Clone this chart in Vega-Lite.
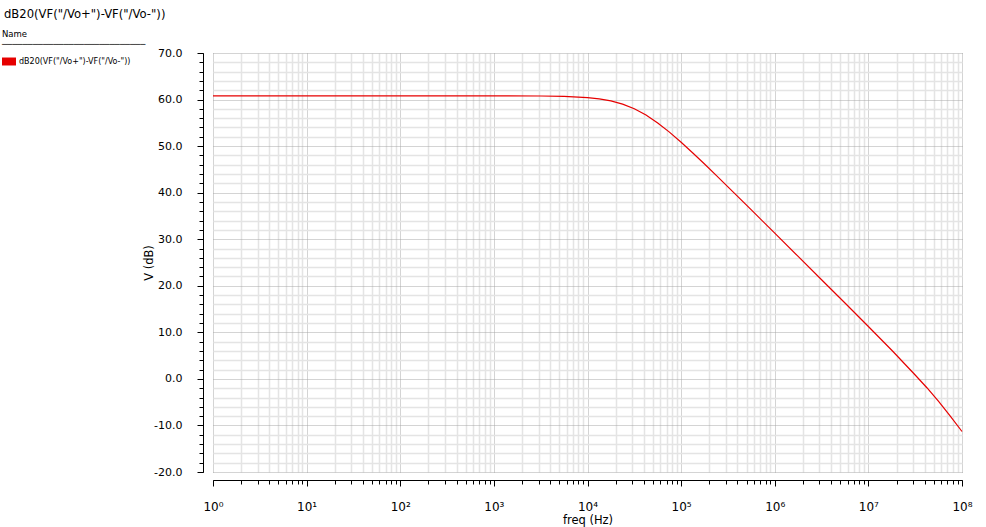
{
  "$schema": "https://vega.github.io/schema/vega-lite/v6.json",
  "width": 749,
  "height": 419,
  "autosize": {"type": "none"},
  "padding": {"left": 213, "top": 53, "right": 24, "bottom": 55},
  "background": "white",
  "config": {"view": {"stroke": null}, "font": "DejaVu Sans"},
  "title": {
    "text": "dB20(VF(\"/Vo+\")-VF(\"/Vo-\"))",
    "anchor": "start",
    "frame": "group",
    "dx": -209,
    "offset": 0.5,
    "baseline": "alphabetic",
    "font": "DejaVu Sans",
    "fontSize": 11.6,
    "fontWeight": "normal",
    "color": "black"
  },
  "data": {
    "values": [
      {"freq": 1, "dB": 60.8, "series": "dB20(VF(\"/Vo+\")-VF(\"/Vo-\"))"},
      {"freq": 10, "dB": 60.8, "series": "dB20(VF(\"/Vo+\")-VF(\"/Vo-\"))"},
      {"freq": 100, "dB": 60.8, "series": "dB20(VF(\"/Vo+\")-VF(\"/Vo-\"))"},
      {"freq": 1000, "dB": 60.8, "series": "dB20(VF(\"/Vo+\")-VF(\"/Vo-\"))"},
      {"freq": 3162, "dB": 60.76, "series": "dB20(VF(\"/Vo+\")-VF(\"/Vo-\"))"},
      {"freq": 5623, "dB": 60.68, "series": "dB20(VF(\"/Vo+\")-VF(\"/Vo-\"))"},
      {"freq": 10000, "dB": 60.43, "series": "dB20(VF(\"/Vo+\")-VF(\"/Vo-\"))"},
      {"freq": 13335, "dB": 60.16, "series": "dB20(VF(\"/Vo+\")-VF(\"/Vo-\"))"},
      {"freq": 17783, "dB": 59.72, "series": "dB20(VF(\"/Vo+\")-VF(\"/Vo-\"))"},
      {"freq": 23714, "dB": 59.03, "series": "dB20(VF(\"/Vo+\")-VF(\"/Vo-\"))"},
      {"freq": 31623, "dB": 58.03, "series": "dB20(VF(\"/Vo+\")-VF(\"/Vo-\"))"},
      {"freq": 42170, "dB": 56.68, "series": "dB20(VF(\"/Vo+\")-VF(\"/Vo-\"))"},
      {"freq": 56234, "dB": 54.98, "series": "dB20(VF(\"/Vo+\")-VF(\"/Vo-\"))"},
      {"freq": 74989, "dB": 53.01, "series": "dB20(VF(\"/Vo+\")-VF(\"/Vo-\"))"},
      {"freq": 100000, "dB": 50.84, "series": "dB20(VF(\"/Vo+\")-VF(\"/Vo-\"))"},
      {"freq": 133352, "dB": 48.53, "series": "dB20(VF(\"/Vo+\")-VF(\"/Vo-\"))"},
      {"freq": 177828, "dB": 46.15, "series": "dB20(VF(\"/Vo+\")-VF(\"/Vo-\"))"},
      {"freq": 237137, "dB": 43.71, "series": "dB20(VF(\"/Vo+\")-VF(\"/Vo-\"))"},
      {"freq": 316228, "dB": 41.25, "series": "dB20(VF(\"/Vo+\")-VF(\"/Vo-\"))"},
      {"freq": 562341, "dB": 36.29, "series": "dB20(VF(\"/Vo+\")-VF(\"/Vo-\"))"},
      {"freq": 1000000, "dB": 31.3, "series": "dB20(VF(\"/Vo+\")-VF(\"/Vo-\"))"},
      {"freq": 1778279, "dB": 26.3, "series": "dB20(VF(\"/Vo+\")-VF(\"/Vo-\"))"},
      {"freq": 3162278, "dB": 21.29, "series": "dB20(VF(\"/Vo+\")-VF(\"/Vo-\"))"},
      {"freq": 5623413, "dB": 16.29, "series": "dB20(VF(\"/Vo+\")-VF(\"/Vo-\"))"},
      {"freq": 10000000, "dB": 11.25, "series": "dB20(VF(\"/Vo+\")-VF(\"/Vo-\"))"},
      {"freq": 17782794, "dB": 6.15, "series": "dB20(VF(\"/Vo+\")-VF(\"/Vo-\"))"},
      {"freq": 31622777, "dB": 0.84, "series": "dB20(VF(\"/Vo+\")-VF(\"/Vo-\"))"},
      {"freq": 42169650, "dB": -1.9, "series": "dB20(VF(\"/Vo+\")-VF(\"/Vo-\"))"},
      {"freq": 56234133, "dB": -4.85, "series": "dB20(VF(\"/Vo+\")-VF(\"/Vo-\"))"},
      {"freq": 74989421, "dB": -8.0, "series": "dB20(VF(\"/Vo+\")-VF(\"/Vo-\"))"},
      {"freq": 100000000, "dB": -11.3, "series": "dB20(VF(\"/Vo+\")-VF(\"/Vo-\"))"}
    ]
  },
  "layer": [
    {
      "mark": {"type": "line", "strokeOpacity": 0},
      "encoding": {
        "x": {
          "field": "freq", "type": "quantitative",
          "scale": {"type": "log", "domain": [1, 100000000], "nice": false},
          "axis": {
            "orient": "bottom", "offset": 8,
            "values": [2,3,4,5,6,7,8,9,20,30,40,50,60,70,80,90,200,300,400,500,600,700,800,900,2000,3000,4000,5000,6000,7000,8000,9000,20000,30000,40000,50000,60000,70000,80000,90000,200000,300000,400000,500000,600000,700000,800000,900000,2000000,3000000,4000000,5000000,6000000,7000000,8000000,9000000,20000000,30000000,40000000,50000000,60000000,70000000,80000000,90000000],
            "grid": true, "gridColor": "#e4e4e4", "gridWidth": 1.5,
            "ticks": true, "tickSize": 4, "tickColor": "black", "tickWidth": 1,
            "domain": true, "domainColor": "black", "domainWidth": 1,
            "labels": false, "title": null
          }
        },
        "y": {
          "field": "dB", "type": "quantitative",
          "scale": {"domain": [-20, 70], "nice": false, "zero": false},
          "axis": {
            "orient": "left", "offset": 10,
            "values": [-18,-16,-14,-12,-8,-6,-4,-2,2,4,6,8,12,14,16,18,22,24,26,28,32,34,36,38,42,44,46,48,52,54,56,58,62,64,66,68],
            "grid": true, "gridColor": "#e4e4e4", "gridWidth": 1.5,
            "ticks": true, "tickSize": 4, "tickColor": "black", "tickWidth": 1,
            "domain": true, "domainColor": "black", "domainWidth": 1,
            "labels": false, "title": null
          }
        }
      }
    },
    {
      "mark": {"type": "line", "strokeWidth": 1.2, "interpolate": "linear"},
      "encoding": {
        "x": {
          "field": "freq", "type": "quantitative",
          "scale": {"type": "log", "domain": [1, 100000000], "nice": false},
          "axis": {
            "orient": "bottom", "offset": 8,
            "values": [1,10,100,1000,10000,100000,1000000,10000000,100000000],
            "grid": true, "gridColor": "#a8a8a8", "gridDash": [1, 1], "gridWidth": 1,
            "ticks": true, "tickSize": 6, "tickColor": "black", "tickWidth": 1,
            "domain": true, "domainColor": "black", "domainWidth": 1,
            "labelExpr": "'10' + ['⁰','¹','²','³','⁴','⁵','⁶','⁷','⁸'][round(log(datum.value)/LN10)]",
            "labelFont": "DejaVu Sans", "labelFontSize": 12, "labelColor": "black",
            "labelPadding": 15, "labelFlush": false, "labelOverlap": false,
            "title": "freq (Hz)", "titleFont": "DejaVu Sans", "titleFontSize": 11.5,
            "titleFontWeight": "normal", "titleColor": "black", "titlePadding": 2
          }
        },
        "y": {
          "field": "dB", "type": "quantitative",
          "scale": {"domain": [-20, 70], "nice": false, "zero": false},
          "axis": {
            "orient": "left", "offset": 10,
            "values": [-20,-10,0,10,20,30,40,50,60,70],
            "labelExpr": "replace(format(datum.value, '.1f'), '−', '-')",
            "grid": true, "gridColor": "#a8a8a8", "gridDash": [1, 1], "gridWidth": 1,
            "ticks": true, "tickSize": 6, "tickColor": "black", "tickWidth": 1,
            "domain": true, "domainColor": "black", "domainWidth": 1,
            "labelFont": "DejaVu Sans", "labelFontSize": 11, "labelColor": "black",
            "labelPadding": 15, "labelOverlap": false,
            "title": "V (dB)", "titleFont": "DejaVu Sans", "titleFontSize": 11.5,
            "titleFontWeight": "normal", "titleColor": "black", "titlePadding": -1
          }
        },
        "color": {
          "field": "series", "type": "nominal",
          "scale": {"range": ["#e60000"]},
          "legend": {
            "orient": "none", "legendX": -211, "legendY": -23,
            "padding": 0,
            "title": ["Name", "────────────────────────────"],
            "titleFont": "DejaVu Sans", "titleFontSize": 8.5, "titleFontWeight": "normal",
            "titleColor": "black", "titleLineHeight": 10, "titleBaseline": "top",
            "titlePadding": 6, "titleLimit": 400,
            "symbolType": "M-1,-0.57H1V0.57H-1Z", "symbolSize": 196,
            "symbolStrokeWidth": 0, "symbolFillColor": "#e60000",
            "labelFont": "DejaVu Sans", "labelFontSize": 8, "labelColor": "black",
            "labelOffset": 3, "labelLimit": 300,
            "encode": {
              "symbols": {"update": {"fill": {"value": "#e60000"}, "stroke": {"value": "#e60000"}, "strokeWidth": {"value": 0}}}
            }
          }
        }
      }
    }
  ],
  "resolve": {"axis": {"x": "independent", "y": "independent"}}
}
